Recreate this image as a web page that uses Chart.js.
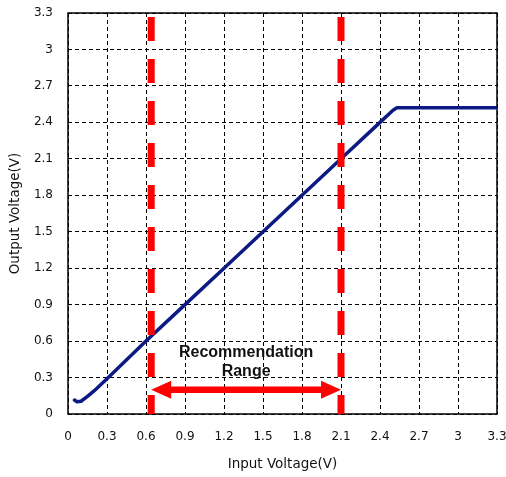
<!DOCTYPE html>
<html>
<head>
<meta charset="utf-8">
<script src="https://cdn.jsdelivr.net/npm/chart.js@4/dist/chart.umd.min.js"></script>
<style>
  html, body { margin: 0; padding: 0; background: #fff; }
  canvas { display: block; }
</style>
</head>
<body>
<canvas id="c" width="506" height="477"></canvas>
<script>
// Axis ticks (volts)
const tickValues = [0, 0.3, 0.6, 0.9, 1.2, 1.5, 1.8, 2.1, 2.4, 2.7, 3.0, 3.3];
const tickLabels = ['0', '0.3', '0.6', '0.9', '1.2', '1.5', '1.8', '2.1', '2.4', '2.7', '3', '3.3'];

// Transfer curve: output voltage vs input voltage
const inputV  = [0.05, 0.07, 0.10, 0.15, 0.20, 0.30, 0.60, 0.90, 1.20, 1.50, 1.80, 2.10, 2.40, 2.50, 2.53, 3.30];
const outputV = [0.115, 0.10, 0.105, 0.145, 0.19, 0.29, 0.60, 0.90, 1.20, 1.50, 1.80, 2.10, 2.40, 2.50, 2.52, 2.52];

// Recommended input range
const rangeStart = 0.64;
const rangeEnd = 2.1;
const arrowLevel = 0.2;
const rangeText = ['Recommendation', 'Range'];

const RED = 'rgb(255,0,0)';
const FONT = 'DejaVu Sans';

const curve = inputV.map((x, i) => ({ x, y: outputV[i] }));
const boundary = v => [{ x: v, y: 3.3 }, { x: v, y: 0 }];

const redLine = v => ({
  data: boundary(v),
  showLine: true,
  borderColor: RED,
  borderWidth: 7,
  borderDash: [24, 18],
  borderDashOffset: 38,
  borderCapStyle: 'butt',
  pointRadius: 0,
  order: 0
});

// Plot frame drawn after the grid
const framePlugin = {
  id: 'frame',
  beforeDatasetsDraw(chart) {
    const { ctx, chartArea: a } = chart;
    ctx.save();
    ctx.setLineDash([]);
    ctx.strokeStyle = '#000';
    ctx.lineWidth = 1.5;
    ctx.strokeRect(a.left, a.top, a.right - a.left, a.bottom - a.top);
    ctx.restore();
  }
};

// Double-headed arrow with its caption
const rangePlugin = {
  id: 'range',
  afterDatasetsDraw(chart) {
    const { ctx } = chart;
    const xs = chart.scales.x, ys = chart.scales.y;
    const x1 = xs.getPixelForValue(rangeStart);
    const x2 = xs.getPixelForValue(rangeEnd);
    const y = ys.getPixelForValue(arrowLevel);
    const headLen = 20, headHalf = 9;
    ctx.save();
    ctx.setLineDash([]);
    ctx.strokeStyle = RED;
    ctx.fillStyle = RED;
    ctx.lineWidth = 6.5;
    ctx.beginPath();
    ctx.moveTo(x1 + headLen - 2, y);
    ctx.lineTo(x2 - headLen + 2, y);
    ctx.stroke();
    ctx.beginPath();
    ctx.moveTo(x1, y);
    ctx.lineTo(x1 + headLen, y - headHalf);
    ctx.lineTo(x1 + headLen, y + headHalf);
    ctx.closePath();
    ctx.fill();
    ctx.beginPath();
    ctx.moveTo(x2, y);
    ctx.lineTo(x2 - headLen, y - headHalf);
    ctx.lineTo(x2 - headLen, y + headHalf);
    ctx.closePath();
    ctx.fill();

    ctx.fillStyle = '#111';
    ctx.font = 'bold 16px "Liberation Sans", Arial, sans-serif';
    ctx.textAlign = 'center';
    ctx.textBaseline = 'middle';
    const cx = (x1 + x2) / 2;
    ctx.fillText(rangeText[0], cx, y - 37);
    ctx.fillText(rangeText[1], cx, y - 18);
    ctx.restore();
  }
};

const useTicks = scale => { scale.ticks = tickValues.map(v => ({ value: v })); };

new Chart(document.getElementById('c'), {
  type: 'scatter',
  data: {
    datasets: [
      redLine(rangeStart),
      redLine(rangeEnd),
      {
        data: curve,
        showLine: true,
        borderColor: '#0c1a84',
        borderWidth: 3.5,
        borderJoinStyle: 'round',
        borderCapStyle: 'round',
        pointRadius: 0,
        tension: 0,
        order: 1
      }
    ]
  },
  options: {
    responsive: false,
    animation: false,
    devicePixelRatio: 1,
    layout: { padding: { top: 13, right: 9, left: 0, bottom: 0 } },
    plugins: { legend: { display: false }, tooltip: { enabled: false } },
    scales: {
      x: {
        type: 'linear',
        min: 0,
        max: 3.3,
        afterBuildTicks: useTicks,
        afterFit(s) { s.height = 63; s.paddingLeft = 0; s.paddingRight = 0; },
        grid: { color: '#000', lineWidth: 1, drawTicks: false },
        border: { display: false, dash: [4, 3] },
        ticks: {
          autoSkip: false,
          maxRotation: 0,
          padding: 16,
          color: '#111',
          font: { family: FONT, size: 12 },
          callback: (v, i) => tickLabels[i]
        },
        title: {
          display: true,
          text: 'Input Voltage(V)',
          color: '#111',
          font: { family: FONT, size: 13.5 },
          padding: { top: 0, bottom: 4 }
        }
      },
      y: {
        type: 'linear',
        min: 0,
        max: 3.3,
        afterBuildTicks: useTicks,
        afterFit(s) { s.width = 68; s.paddingTop = 0; s.paddingBottom = 0; },
        grid: { color: '#000', lineWidth: 1, drawTicks: false },
        border: { display: false, dash: [4, 3] },
        ticks: {
          autoSkip: false,
          padding: 15,
          color: '#111',
          font: { family: FONT, size: 12 },
          callback: (v, i) => tickLabels[i]
        },
        title: {
          display: true,
          text: 'Output Voltage(V)',
          color: '#111',
          font: { family: FONT, size: 13.5 },
          padding: { top: 7, bottom: 0 }
        }
      }
    }
  },
  plugins: [framePlugin, rangePlugin]
});
</script>
</body>
</html>
